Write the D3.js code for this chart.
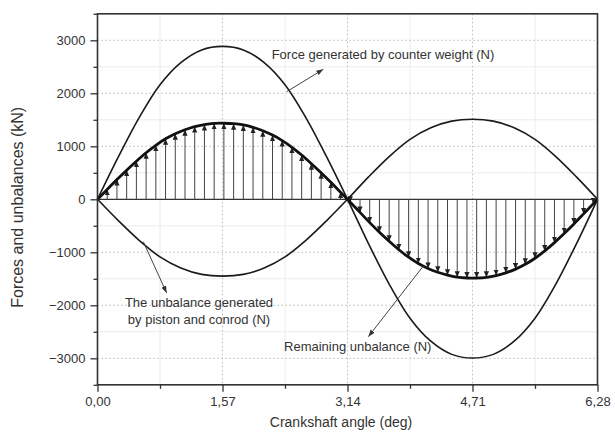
<!DOCTYPE html>
<html>
<head>
<meta charset="utf-8">
<script src="https://cdn.jsdelivr.net/npm/d3@7"></script>
<style>
  body { margin: 0; background: #fff; }
  text { font-family: "Liberation Sans", Arial, sans-serif; fill: #333; }
</style>
</head>
<body>
<svg id="chart" width="615" height="438"></svg>
<script>
// angles in degrees, the axis shows them as radians
const curveAngles = [0, 15, 30, 45, 60, 75, 90, 105, 120, 135, 150, 165, 180,
  195, 210, 225, 240, 255, 270, 285, 300, 315, 330, 345, 360];
const counterWeight = [0, 799, 1541, 2161, 2579, 2819, 2885, 2819, 2579, 2161, 1541, 799, 0,
  -830, -1599, -2243, -2678, -2926, -2995, -2926, -2678, -2243, -1599, -830, 0];
const pistonConrod = [0, -402, -774, -1086, -1296, -1417, -1450, -1417, -1296, -1086, -774, -402, 0,
  418, 806, 1131, 1350, 1475, 1510, 1475, 1350, 1131, 806, 418, 0];

const remAngles = [0, 7, 14, 21, 28, 35, 42, 49, 56, 63, 70, 77, 84, 91, 98, 105, 112, 119, 126,
  133, 140, 147, 154, 161, 168, 175, 180, 182, 189, 196, 203, 210, 217, 224, 231, 238, 245, 252,
  259, 266, 273, 280, 287, 294, 301, 308, 315, 322, 329, 336, 343, 350, 357, 360];
const remaining = [0, 187, 372, 550, 719, 878, 1019, 1141, 1237, 1313, 1372, 1411, 1432, 1435,
  1426, 1402, 1358, 1294, 1211, 1108, 982, 835, 672, 501, 320, 133, 0,
  -55, -247, -440, -622, -793, -952, -1093, -1212, -1305, -1377, -1432, -1469, -1485, -1485,
  -1472, -1439, -1387, -1317, -1227, -1112, -974, -817, -647, -465, -275, -82, 0];

const xTicks = [0, 90, 180, 270, 360];
const xTickLabels = ['0,00', '1,57', '3,14', '4,71', '6,28'];
const xMinor = [45, 135, 225, 315];
const yTicks = [-3000, -2000, -1000, 0, 1000, 2000, 3000];
const yMinor = [-3500, -2500, -1500, -500, 500, 1500, 2500, 3500];

// annotations: [text lines], anchor, arrow from/to in data units
const notes = [
  { lines: ['Force generated by counter weight (N)'], at: [125.4, 2650], anchor: 'start',
    from: [136.2, 2030], to: [162.6, 2453] },
  { lines: ['The unbalance generated', 'by piston and conrod (N)'], at: [73.1, -2040], anchor: 'middle',
    from: [33, -800], to: [49.8, -1768] },
  { lines: ['Remaining unbalance (N)'], at: [134.3, -2862], anchor: 'start',
    from: [234.6, -1258], to: [195, -2592] },
];

const svg = d3.select('#chart');
const margin = { left: 97.5, right: 17.5, top: 13.8, bottom: 53.2 };
const W = 615, H = 438;

const x = d3.scaleLinear().domain([0, 360]).range([margin.left, W - margin.right]);
const y = d3.scaleLinear().domain([-3500, 3500]).range([H - margin.bottom, margin.top]);

const defs = svg.append('defs');
defs.append('marker')
  .attr('id', 'stemHead')
  .attr('markerUnits', 'userSpaceOnUse')
  .attr('markerWidth', 6).attr('markerHeight', 6)
  .attr('refX', 6).attr('refY', 3)
  .attr('orient', 'auto')
  .append('path').attr('d', 'M0,0.4L6,3L0,5.6Z').attr('fill', '#222');
defs.append('marker')
  .attr('id', 'noteHead')
  .attr('markerUnits', 'userSpaceOnUse')
  .attr('markerWidth', 7).attr('markerHeight', 6)
  .attr('refX', 7).attr('refY', 3)
  .attr('orient', 'auto')
  .append('path').attr('d', 'M0,0.5L7,3L0,5.5Z').attr('fill', '#333');

// grid
const grid = svg.append('g');
grid.selectAll('.vminor').data(xMinor).join('line')
  .attr('x1', (d) => x(d)).attr('x2', (d) => x(d))
  .attr('y1', y(3500)).attr('y2', y(-3500))
  .attr('stroke', '#ececec').attr('stroke-width', 1);
grid.selectAll('.hminor').data(yMinor).join('line')
  .attr('x1', x(0)).attr('x2', x(360))
  .attr('y1', (d) => y(d)).attr('y2', (d) => y(d))
  .attr('stroke', '#ececec').attr('stroke-width', 1);
grid.selectAll('.vmajor').data(xTicks.slice(1, -1)).join('line')
  .attr('x1', (d) => x(d)).attr('x2', (d) => x(d))
  .attr('y1', y(3500)).attr('y2', y(-3500))
  .attr('stroke', '#bbb').attr('stroke-dasharray', '1.5,2.5');
grid.selectAll('.hmajor').data(yTicks.filter((d) => d !== 0)).join('line')
  .attr('x1', x(0)).attr('x2', x(360))
  .attr('y1', (d) => y(d)).attr('y2', (d) => y(d))
  .attr('stroke', '#bbb').attr('stroke-dasharray', '1.5,2.5');

// zero baseline
svg.append('line')
  .attr('x1', x(0)).attr('x2', x(360)).attr('y1', y(0)).attr('y2', y(0))
  .attr('stroke', '#333').attr('stroke-width', 1.3);

// stems
const remData = remAngles.map((a, i) => ({ a, v: remaining[i] }));
svg.append('g').selectAll('line').data(remData.filter((d) => d.v !== 0)).join('line')
  .attr('x1', (d) => x(d.a)).attr('x2', (d) => x(d.a))
  .attr('y1', y(0)).attr('y2', (d) => y(d.v))
  .attr('stroke', '#444').attr('stroke-width', 1)
  .attr('marker-end', 'url(#stemHead)');

const line = d3.line()
  .x((d) => x(d.a)).y((d) => y(d.v))
  .curve(d3.curveCatmullRom.alpha(0.5));

const cwData = curveAngles.map((a, i) => ({ a, v: counterWeight[i] }));
const pcData = curveAngles.map((a, i) => ({ a, v: pistonConrod[i] }));

svg.append('path').datum(cwData).attr('d', line)
  .attr('fill', 'none').attr('stroke', '#1a1a1a').attr('stroke-width', 1.6);
svg.append('path').datum(pcData).attr('d', line)
  .attr('fill', 'none').attr('stroke', '#1a1a1a').attr('stroke-width', 1.6);
svg.append('path').datum(remData).attr('d', line)
  .attr('fill', 'none').attr('stroke', '#111').attr('stroke-width', 2.8);

// frame
svg.append('rect')
  .attr('x', x(0)).attr('y', y(3500))
  .attr('width', x(360) - x(0)).attr('height', y(-3500) - y(3500))
  .attr('fill', 'none').attr('stroke', '#333').attr('stroke-width', 1.6);

// axes
svg.append('g').attr('transform', `translate(${x(0)},0)`)
  .call(d3.axisLeft(y).tickValues(yTicks).tickSize(7).tickPadding(5).tickFormat(d3.format('d')));
svg.append('g').attr('transform', `translate(${x(0)},0)`)
  .call(d3.axisLeft(y).tickValues(yMinor).tickSize(4).tickFormat(''));
svg.append('g').attr('transform', `translate(0,${y(-3500)})`)
  .call(d3.axisBottom(x).tickValues(xTicks).tickSize(7).tickPadding(5)
    .tickFormat((d, i) => xTickLabels[i]));
svg.append('g').attr('transform', `translate(0,${y(-3500)})`)
  .call(d3.axisBottom(x).tickValues(xMinor).tickSize(4).tickFormat(''));

svg.selectAll('.domain').remove();
svg.selectAll('.tick line').attr('stroke', '#333').attr('stroke-width', 1.3);
svg.selectAll('.tick text')
  .attr('font-family', '"Liberation Sans", Arial, sans-serif')
  .attr('font-size', 13).attr('fill', '#333');

// titles
svg.append('text')
  .attr('x', 341).attr('y', 427)
  .attr('text-anchor', 'middle').attr('font-size', 14)
  .text('Crankshaft angle (deg)');
svg.append('text')
  .attr('transform', `translate(23,${y(0) + 8}) rotate(-90)`)
  .attr('text-anchor', 'middle').attr('font-size', 16)
  .text('Forces and unbalances (kN)');

// annotations
notes.forEach((n) => {
  svg.append('line')
    .attr('x1', x(n.from[0])).attr('y1', y(n.from[1]))
    .attr('x2', x(n.to[0])).attr('y2', y(n.to[1]))
    .attr('stroke', '#444').attr('stroke-width', 1)
    .attr('marker-end', 'url(#noteHead)');
  const t = svg.append('text')
    .attr('x', x(n.at[0])).attr('y', y(n.at[1]))
    .attr('text-anchor', n.anchor).attr('font-size', 13);
  n.lines.forEach((l, i) => {
    t.append('tspan').attr('x', x(n.at[0])).attr('dy', i === 0 ? 0 : 16.5).text(l);
  });
});
</script>
</body>
</html>
